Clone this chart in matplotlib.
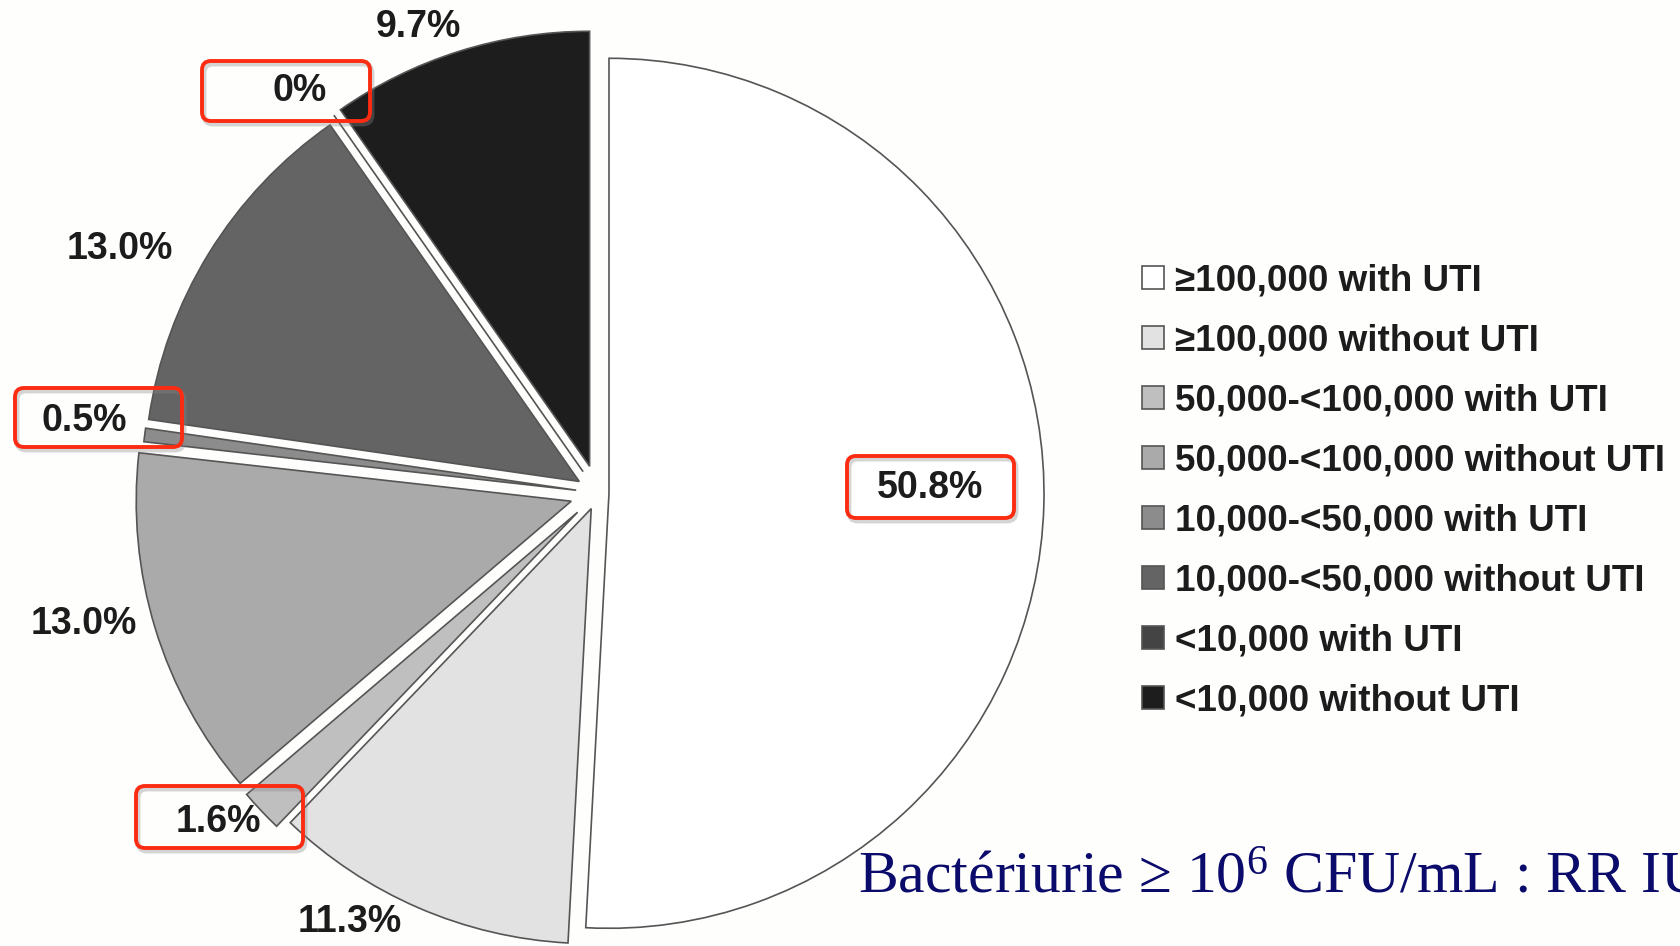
import numpy as np
import matplotlib.pyplot as plt
from matplotlib.patches import FancyBboxPatch

plt.rcParams['font.family'] = ['Liberation Sans', 'DejaVu Sans']
plt.rcParams['mathtext.fontset'] = 'custom'
plt.rcParams['mathtext.rm'] = 'Liberation Serif'
plt.rcParams['mathtext.it'] = 'Liberation Serif:italic'

# Urine cultures by colony count (CFU/mL) and UTI status, in %
categories = ['≥100,000 with UTI', '≥100,000 without UTI', '50,000-<100,000 with UTI',
              '50,000-<100,000 without UTI', '10,000-<50,000 with UTI',
              '10,000-<50,000 without UTI', '<10,000 with UTI', '<10,000 without UTI']
shares = [50.8, 11.3, 1.6, 13.0, 0.5, 13.0, 0.0, 9.7]
value_labels = ['50.8%', '11.3%', '1.6%', '13.0%', '0.5%', '13.0%', '0%', '9.7%']
highlighted = [True, False, True, False, True, False, True, False]

greys = ['#ffffff', '#e2e2e2', '#bfbfbf', '#aaaaaa', '#8c8c8c', '#646464', '#444444', '#1d1d1d']
explode_px = [11, 17, 28, 28, 22, 22, 26, 28]

W, H = 1681, 946
# label anchor points in pixels from the top-left corner
label_xy = [(930, 488), (350, 922), (218, 822), (84, 624),
            (84, 421), (120, 249), (300, 91), (418, 27)]
# red boxes (x0, y0, x1, y1) in pixels from the top-left corner
box_xy = {0: (847, 456, 1014, 518), 2: (136, 786, 303, 848),
          4: (15, 388, 182, 447), 6: (202, 61, 370, 121)}

fig = plt.figure(figsize=(W / 100, H / 100), dpi=100)
fig.patch.set_facecolor('#fefefd')
ax = fig.add_axes([0, 0, 1, 1])

wedges, _ = ax.pie(shares, colors=greys, explode=explode_px, startangle=90,
                   counterclock=False, radius=435, center=(598, H - 493), frame=True,
                   wedgeprops=dict(edgecolor='#555555', linewidth=1.2))
ax.set_xlim(0, W)
ax.set_ylim(0, H)
ax.set_aspect('equal')
ax.axis('off')

for i, txt in enumerate(value_labels):
    x, y = label_xy[i]
    ax.text(x, H - y, txt, fontsize=27, fontweight='bold', color='#1c1c1c',
            ha='center', va='center')

for i, (x0, y0, x1, y1) in box_xy.items():
    if not highlighted[i]:
        continue
    shadow = FancyBboxPatch((x0 + 2, H - y1 - 3), x1 - x0, y1 - y0,
                            boxstyle='round,pad=0,rounding_size=9', fill=False,
                            edgecolor='#888888', alpha=0.35, lw=3.5)
    ax.add_patch(shadow)
    box = FancyBboxPatch((x0, H - y1), x1 - x0, y1 - y0,
                         boxstyle='round,pad=0,rounding_size=9', fill=False,
                         edgecolor='#fb2c12', lw=2.8)
    ax.add_patch(box)

fig.legend(wedges, categories, loc='center left',
           bbox_to_anchor=(1142 / W, 1 - 491 / H), frameon=False,
           prop=dict(size=26.5, weight='bold'), labelcolor='#1c1c1c',
           handlelength=0.6, handleheight=0.6, handletextpad=0.3,
           labelspacing=0.68, borderpad=0, borderaxespad=0)

fig.text(858 / W, 1 - 893 / H, 'Bactériurie ≥ 10$^6$ CFU/mL : RR IU',
         fontsize=43, family='Liberation Serif', color='#0b0b6c', va='baseline')

fig.savefig('out.png', dpi=100, facecolor=fig.get_facecolor())
